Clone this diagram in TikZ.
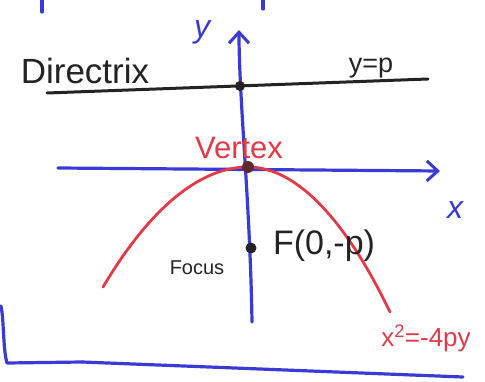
\documentclass[tikz,border=0pt]{standalone}
\usepackage{fontspec}
\setmainfont{Liberation Sans}
\usetikzlibrary{arrows.meta}
\definecolor{penblue}{RGB}{58,58,215}
\definecolor{penred}{RGB}{228,58,72}
\definecolor{penblack}{RGB}{35,35,35}
\tikzset{
  blueline/.style={draw=penblue, line width=3.2pt, line cap=round, line join=round},
  blackline/.style={draw=penblack, line width=3pt, line cap=round},
  redline/.style={draw=penred, line width=2.8pt, line cap=round},
  barb/.style={-{Straight Barb[length=11pt,width=20pt,line width=3pt]}},
  dotmark/.style={circle, fill=penblack, inner sep=0pt, minimum size=10pt},
  lbl/.style={inner sep=0pt, text=penblack},
}
\begin{document}
\begin{tikzpicture}[x=1pt,y=-1pt]
\useasboundingbox (0,0) rectangle (485,382);
% top stray marks
\coordinate (t1a) at (42,0); \coordinate (t1b) at (42,12);
\coordinate (t2a) at (263,0); \coordinate (t2b) at (263,9);
\draw[blueline] (t1a) -- (t1b);
\draw[blueline] (t2a) -- (t2b);
% directrix
\coordinate (dL) at (47,93);
\coordinate (dR) at (428,79);
\draw[blackline] (dL) -- (dR);
% y axis
\coordinate (yB) at (252,322);
\coordinate (yT) at (239,30);
\draw[blueline, barb] (yB) .. controls (250,200) and (239,100) .. (yT);
% x axis
\coordinate (xL) at (58,168);
\coordinate (xR) at (440,171);
\draw[blueline, barb] (xL) -- (xR);
% parabola
\coordinate (pL) at (103,287);
\coordinate (pV) at (248,167);
\coordinate (pR) at (390,312);
\draw[redline] (pL) parabola bend (pV) (pR);
% dots
\node[dotmark] (ddot) at (240,86) {};
\node[dotmark, fill=penblack!70!penred, minimum size=12pt] (vdot) at (248,167) {};
\node[dotmark, minimum size=11pt] (fdot) at (251,248) {};
% frame
\coordinate (f1) at (1,306);
\coordinate (f2) at (7,363);
\coordinate (f3) at (82,362);
\coordinate (f4) at (463,377);
\draw[blueline] (f1) .. controls (4,320) and (3,350) .. (f2) -- (f3);
\draw[blueline] (f3) -- (f4);
% labels
\node[lbl, text=penblue, font=\fontsize{32}{32}\selectfont\itshape] (ylab) at (202,32) {y};
\node[lbl, text=penblue, font=\fontsize{32}{32}\selectfont\itshape] (xlab) at (455,210) {x};
\node[lbl, font=\fontsize{35}{35}\selectfont] (dir) at (85,71) {Directrix};
\node[lbl, font=\fontsize{27}{27}\selectfont] (yp) at (371,68) {y=p};
\node[lbl, text=penred, font=\fontsize{31}{31}\selectfont] (vtx) at (239,148) {Vertex};
\node[lbl, font=\fontsize{34}{34}\selectfont] (flab) at (324,246) {F(0,-p)};
\node[lbl, font=\fontsize{20}{20}\selectfont] (foc) at (197,268) {Focus};
\node[lbl, text=penred, font=\fontsize{26}{26}\selectfont] (eq) at (426,338) {x\textsuperscript{2}=-4py};
\end{tikzpicture}
\end{document}
